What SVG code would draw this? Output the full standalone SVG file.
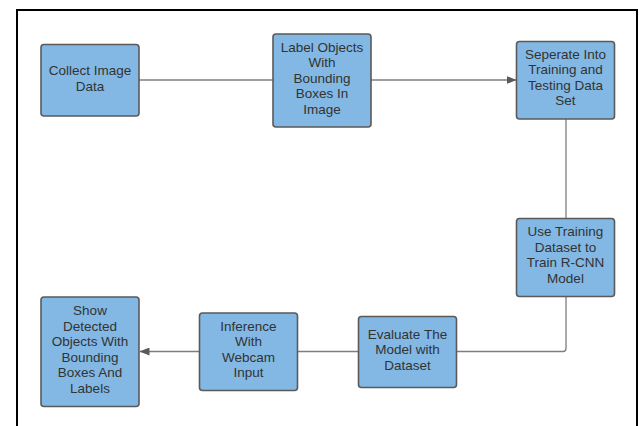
<svg xmlns="http://www.w3.org/2000/svg" width="642" height="426" viewBox="0 0 642 426">
<style>
.box{fill:#82b8e3;stroke:#5a5a5a;stroke-width:1.6}
.t{font-family:"Liberation Sans",Arial,sans-serif;font-size:13.5px;fill:#333;text-anchor:middle}
.c{fill:none;stroke:#7d7d7d;stroke-width:1.3}
</style>
<defs>
<marker id="ah" markerWidth="10" markerHeight="8" refX="9.5" refY="4" orient="auto" markerUnits="userSpaceOnUse">
<path d="M0,0 L10,4 L0,8 Z" fill="#5a5a5a"/>
</marker>
</defs>
<rect x="0" y="0" width="642" height="426" fill="#fff"/>
<rect x="17" y="10" width="620" height="430" fill="#fff" stroke="#000" stroke-width="2"/>
<g id="connectors">
<line class="c" x1="139" y1="80" x2="273" y2="80"/>
<line class="c" x1="371" y1="80" x2="516" y2="80" marker-end="url(#ah)"/>
<line class="c" x1="566" y1="119" x2="566" y2="218"/>
<path class="c" d="M566,297 V348.5 Q566,351.5 563,351.5 H457"/>
<line class="c" x1="358" y1="351.5" x2="298" y2="351.5"/>
<line class="c" x1="199" y1="351.5" x2="140" y2="351.5" marker-end="url(#ah)"/>
</g>
<g id="n1">
<rect class="box" x="41" y="44.5" width="98" height="71.5" rx="3"/>
<text class="t" x="90" y="75">Collect Image</text>
<text class="t" x="90" y="90.5">Data</text>
</g>
<g id="n2">
<rect class="box" x="273" y="34" width="98" height="93" rx="3"/>
<text class="t" x="322" y="51.5">Label Objects</text>
<text class="t" x="322" y="67">With</text>
<text class="t" x="322" y="82.5">Bounding</text>
<text class="t" x="322" y="98">Boxes In</text>
<text class="t" x="322" y="113.5">Image</text>
</g>
<g id="n3">
<rect class="box" x="516.5" y="41.5" width="98" height="77.5" rx="3"/>
<text class="t" x="565.5" y="58.5">Seperate Into</text>
<text class="t" x="565.5" y="74">Training and</text>
<text class="t" x="565.5" y="89.5">Testing Data</text>
<text class="t" x="565.5" y="105">Set</text>
</g>
<g id="n4">
<rect class="box" x="516.5" y="218.5" width="98" height="78" rx="3"/>
<text class="t" x="565.5" y="236">Use Training</text>
<text class="t" x="565.5" y="251.5">Dataset to</text>
<text class="t" x="565.5" y="267">Train R-CNN</text>
<text class="t" x="565.5" y="282.5">Model</text>
</g>
<g id="n5">
<rect class="box" x="358.5" y="316.5" width="98" height="71" rx="3"/>
<text class="t" x="407.5" y="338.5">Evaluate The</text>
<text class="t" x="407.5" y="354">Model with</text>
<text class="t" x="407.5" y="369.5">Dataset</text>
</g>
<g id="n6">
<rect class="box" x="199.5" y="313" width="98" height="77.5" rx="3"/>
<text class="t" x="248.5" y="330.5">Inference</text>
<text class="t" x="248.5" y="346">With</text>
<text class="t" x="248.5" y="361.5">Webcam</text>
<text class="t" x="248.5" y="377">Input</text>
</g>
<g id="n7">
<rect class="box" x="41" y="297" width="98" height="109.5" rx="3"/>
<text class="t" x="90" y="315">Show</text>
<text class="t" x="90" y="330.5">Detected</text>
<text class="t" x="90" y="346">Objects With</text>
<text class="t" x="90" y="361.5">Bounding</text>
<text class="t" x="90" y="377">Boxes And</text>
<text class="t" x="90" y="392.5">Labels</text>
</g>
</svg>
